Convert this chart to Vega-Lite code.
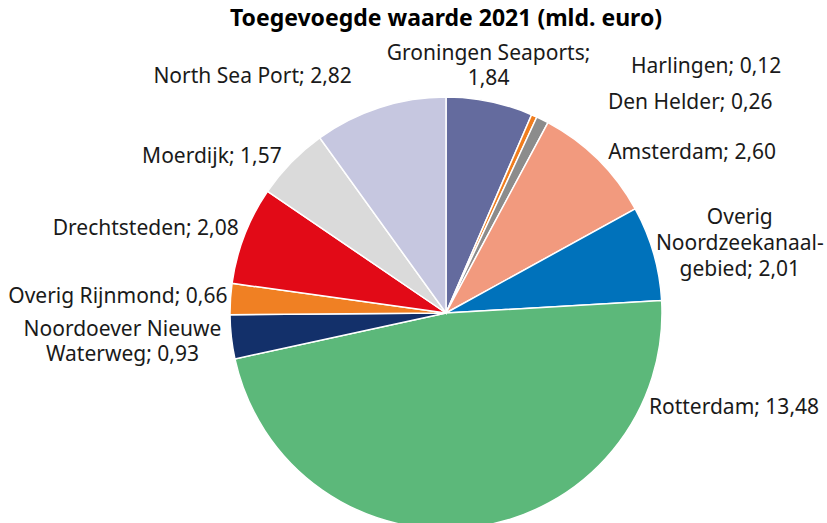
{
  "$schema": "https://vega.github.io/schema/vega-lite/v6.json",
  "autosize": {"type": "none"},
  "padding": {"left": 0, "top": 40, "right": 0, "bottom": 0},
  "width": 892,
  "height": 546,
  "background": "white",
  "config": {"view": {"stroke": null}, "font": "Noto Sans"},
  "title": {"text": "Toegevoegde waarde 2021 (mld. euro)", "fontSize": 23, "fontWeight": "bold", "font": "Noto Sans", "color": "#000000", "anchor": "middle", "offset": 9},
  "data": {"values": [
    {"order": 1, "name": "Groningen Seaports", "value": 1.84, "label": "Groningen Seaports;\n1,84"},
    {"order": 2, "name": "Harlingen", "value": 0.12, "label": "Harlingen; 0,12"},
    {"order": 3, "name": "Den Helder", "value": 0.26, "label": "Den Helder; 0,26"},
    {"order": 4, "name": "Amsterdam", "value": 2.60, "label": "Amsterdam; 2,60"},
    {"order": 5, "name": "Overig Noordzeekanaalgebied", "value": 2.01, "label": "Overig\nNoordzeekanaal-\ngebied; 2,01"},
    {"order": 6, "name": "Rotterdam", "value": 13.48, "label": "Rotterdam; 13,48"},
    {"order": 7, "name": "Noordoever Nieuwe Waterweg", "value": 0.93, "label": "Noordoever Nieuwe\nWaterweg; 0,93"},
    {"order": 8, "name": "Overig Rijnmond", "value": 0.66, "label": "Overig Rijnmond; 0,66"},
    {"order": 9, "name": "Drechtsteden", "value": 2.08, "label": "Drechtsteden; 2,08"},
    {"order": 10, "name": "Moerdijk", "value": 1.57, "label": "Moerdijk; 1,57"},
    {"order": 11, "name": "North Sea Port", "value": 2.82, "label": "North Sea Port; 2,82"}
  ]},
  "encoding": {
    "theta": {"field": "value", "type": "quantitative", "stack": true},
    "order": {"field": "order", "type": "quantitative"}
  },
  "layer": [
    {
      "mark": {"type": "arc", "outerRadius": 216, "stroke": "white", "strokeWidth": 1.5},
      "encoding": {
        "color": {
          "field": "name", "type": "nominal", "legend": null,
          "scale": {
            "domain": ["Groningen Seaports", "Harlingen", "Den Helder", "Amsterdam", "Overig Noordzeekanaalgebied", "Rotterdam", "Noordoever Nieuwe Waterweg", "Overig Rijnmond", "Drechtsteden", "Moerdijk", "North Sea Port"],
            "range": ["#646B9E", "#F07D1E", "#8C8C8C", "#F29A7E", "#0072BB", "#5CB87A", "#13306A", "#F08023", "#E20A17", "#DADADA", "#C6C7E0"]
          }
        }
      }
    },
    {
      "mark": {
        "type": "text", "radius": 235, "font": "Noto Sans", "fontSize": 21, "color": "#1a1a1a",
        "lineBreak": "\n", "baseline": "middle",
        "lineHeight": {"expr": "datum.name === 'Overig Noordzeekanaalgebied' ? 26 : 25"},
        "align": {"expr": "indexof(['Groningen Seaports','Overig Noordzeekanaalgebied','Noordoever Nieuwe Waterweg'], datum.name) >= 0 ? 'center' : (datum.order <= 6 ? 'left' : 'right')"},
        "dx": {"expr": "({'Groningen Seaports': -5, 'Harlingen': 89, 'Den Helder': 57, 'Amsterdam': -3, 'Overig Noordzeekanaalgebied': 68, 'Rotterdam': 171, 'Noordoever Nieuwe Waterweg': -90, 'Overig Rijnmond': 16, 'Drechtsteden': 12, 'Moerdijk': 4, 'North Sea Port': -22})[datum.name]"},
        "dy": {"expr": "({'Groningen Seaports': -29, 'Harlingen': -32, 'Den Helder': 0, 'Amsterdam': 7, 'Overig Noordzeekanaalgebied': -30, 'Rotterdam': -138, 'Noordoever Nieuwe Waterweg': -9, 'Overig Rijnmond': -1, 'Drechtsteden': 1, 'Moerdijk': 8, 'North Sea Port': -12})[datum.name]"}
      },
      "encoding": {"text": {"field": "label"}}
    }
  ]
}
